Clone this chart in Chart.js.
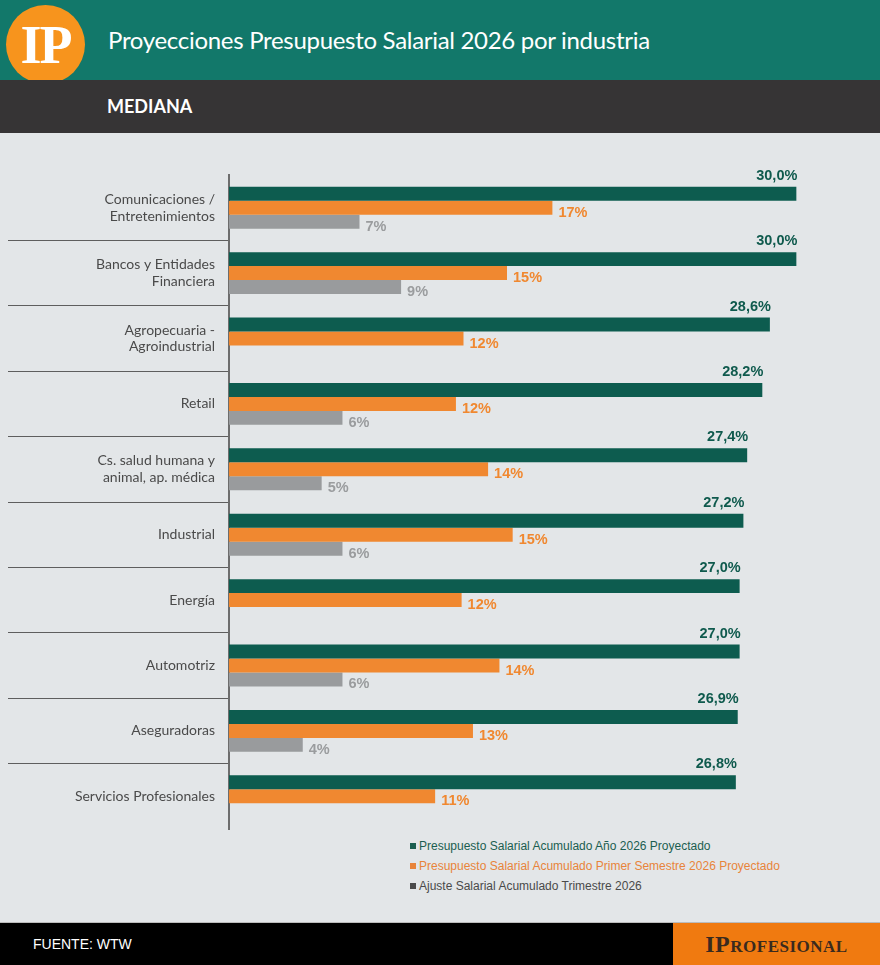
<!DOCTYPE html>
<html>
<head>
<meta charset="utf-8">
<script src="https://cdn.jsdelivr.net/npm/chart.js@4.4.1/dist/chart.umd.min.js"></script>
<style>
  body { margin: 0; width: 880px; height: 965px; background: #e3e6e8; overflow: hidden; position: relative; font-family: "Liberation Sans", Arial, sans-serif; }
  .header { position: absolute; left: 0; top: 0; width: 880px; height: 80px; background: #12786a; }
  .logo { position: absolute; left: 6px; top: 5px; width: 79px; height: 79px; border-radius: 50%; background: #f7941d; color: #fff;
          font: bold 54px "Liberation Serif", serif; letter-spacing: -2px; text-align: center; line-height: 80px; }
  .title { position: absolute; left: 108px; top: 25px; color: #fff; font: 24px Lato, sans-serif; letter-spacing: -0.3px; white-space: nowrap; }
  .band { position: absolute; left: 0; top: 80px; width: 880px; height: 53px; background: #363435; }
  .band span { position: absolute; left: 107px; top: 15px; color: #fff; font: bold 18px Lato, sans-serif; }
  .wrap { position: absolute; left: 0; top: 133px; width: 880px; height: 700px; }
  .legend { position: absolute; left: 410px; top: 836px; font: 12px "Liberation Sans", Arial, sans-serif; line-height: 20px; }
  .legend i { display: inline-block; width: 6px; height: 6px; margin-right: 3px; vertical-align: 1px; }
  .footer { position: absolute; left: 0; top: 922px; width: 880px; height: 43px; background: #000; border-top: 1px solid #bbb; }
  .footer .src { position: absolute; left: 33px; top: 13px; color: #fff; font: 14px "Liberation Sans", Arial, sans-serif; }
  .footer .brand { position: absolute; right: 0; top: 0; width: 207px; height: 43px; background: #f07a10; color: #3a2a1e;
                   font: bold 24px "Liberation Serif", serif; font-variant: small-caps; letter-spacing: 0.5px; text-align: center; line-height: 42px; }
</style>
</head>
<body>
<div class="header"><div class="logo">IP</div><div class="title">Proyecciones Presupuesto Salarial 2026 por industria</div></div>
<div class="band"><span>MEDIANA</span></div>
<div class="wrap"><canvas id="chart" width="880" height="700"></canvas></div>
<div class="legend" id="legend"></div>
<div class="footer"><div class="src">FUENTE: WTW</div><div class="brand">IProfesional</div></div>
<script>
const industries = [
  ['Comunicaciones /', 'Entretenimientos'],
  ['Bancos y Entidades', 'Financiera'],
  ['Agropecuaria -', 'Agroindustrial'],
  'Retail',
  ['Cs. salud humana y', 'animal, ap. médica'],
  'Industrial',
  'Energía',
  'Automotriz',
  'Aseguradoras',
  'Servicios Profesionales'
];
const seriesNames = [
  'Presupuesto Salarial Acumulado Año 2026 Proyectado',
  'Presupuesto Salarial Acumulado Primer Semestre 2026 Proyectado',
  'Ajuste Salarial Acumulado Trimestre 2026'
];
const anual = [30.0, 30.0, 28.6, 28.2, 27.4, 27.2, 27.0, 27.0, 26.9, 26.8];
const semestre = [17.1, 14.7, 12.4, 12.0, 13.7, 15.0, 12.3, 14.3, 12.9, 10.9];
const trimestre = [6.9, 9.1, null, 6.0, 4.9, 6.0, null, 6.0, 3.9, null];
const barColors = ['#0d5c4f', '#f08830', '#999b9d'];
const labelColors = ['#0f5a4d', '#f08830', '#9a9c9e'];
const legendColors = ['#1b5e50', '#e8843a', '#4a4a4a'];

// value labels next to each bar
const valueLabels = {
  id: 'valueLabels',
  afterDatasetsDraw(chart) {
    const c = chart.ctx;
    chart.data.datasets.forEach((ds, i) => {
      chart.getDatasetMeta(i).data.forEach((bar, j) => {
        const v = ds.data[j];
        if (v == null) return;
        c.save();
        c.font = 'bold 14.5px "Liberation Sans", Arial, sans-serif';
        c.fillStyle = labelColors[i];
        c.textBaseline = 'middle';
        if (i === 0) {
          c.textAlign = 'right';
          c.fillText(v.toFixed(1).replace('.', ',') + '%', bar.x + 1, bar.y - 18);
        } else {
          c.textAlign = 'left';
          c.fillText(Math.round(v) + '%', bar.x + 6, bar.y + 5);
        }
        c.restore();
      });
    });
  }
};

const ctx = document.getElementById('chart').getContext('2d');
new Chart(ctx, {
  type: 'bar',
  data: {
    labels: industries,
    datasets: [anual, semestre, trimestre].map((d, i) => ({
      label: seriesNames[i],
      data: d,
      backgroundColor: barColors[i],
      borderWidth: 0,
      barPercentage: 1.0,
      categoryPercentage: 0.64
    }))
  },
  options: {
    indexAxis: 'y',
    responsive: false,
    animation: false,
    layout: { padding: { left: 0, right: 8, top: 42, bottom: 4 } },
    scales: {
      x: { display: false, min: 0, max: 34 },
      y: {
        afterFit: s => { s.width = 229; },
        grid: {
          drawOnChartArea: false,
          tickLength: 221,
          color: c => (c.type === 'tick' && c.index > 0) ? '#5e5e5e' : 'transparent',
          lineWidth: 1
        },
        border: { color: '#6d6d6d', width: 2 },
        ticks: {
          autoSkip: false,
          padding: -207,
          color: '#4a4a4a',
          font: { family: 'Lato, sans-serif', size: 14, lineHeight: 1.2 }
        }
      }
    },
    plugins: {
      legend: { display: false },
      tooltip: { enabled: false }
    }
  },
  plugins: [valueLabels]
});

// legend below the chart
document.getElementById('legend').innerHTML = seriesNames.map((n, i) =>
  '<div style="color:' + legendColors[i] + '"><i style="background:' + legendColors[i] + '"></i>' + n + '</div>'
).join('');
</script>
</body>
</html>
